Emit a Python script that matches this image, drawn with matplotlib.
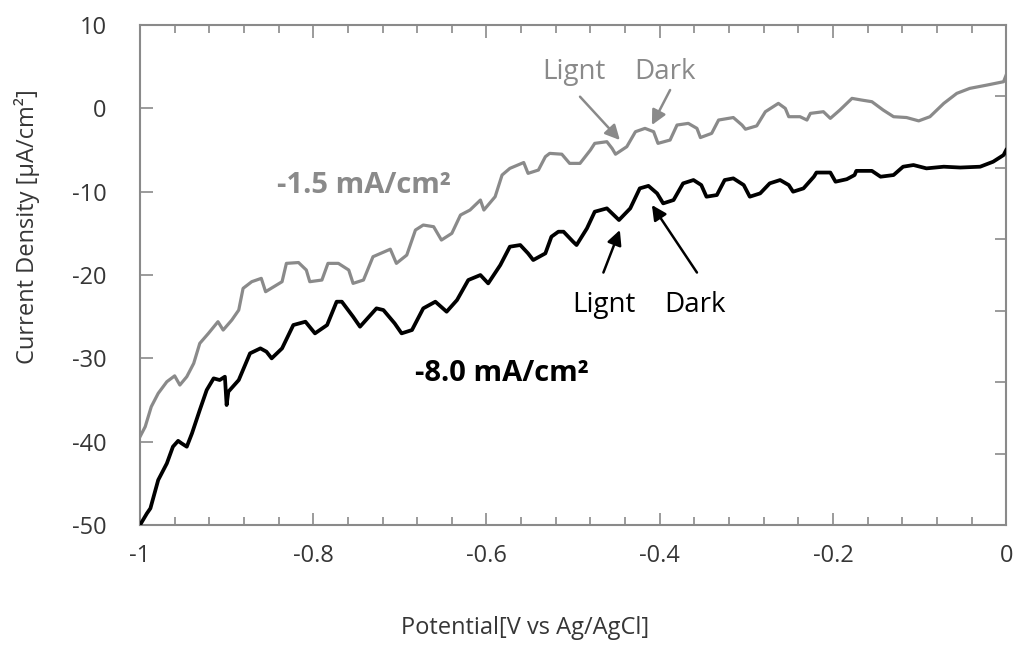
import matplotlib
matplotlib.use('Agg')
import matplotlib.pyplot as plt
import numpy as np

plt.rcParams['font.family'] = ['Open Sans', 'Noto Sans', 'DejaVu Sans']
plt.rcParams['axes.unicode_minus'] = False

# -1.5 mA/cm2 sample (gray), chopped light LSV
gray_x = [-1.000, -0.994, -0.987, -0.979, -0.969, -0.960, -0.954, -0.946, -0.938, -0.931,
          -0.921, -0.910, -0.904, -0.894, -0.886, -0.881, -0.871, -0.860, -0.855, -0.836,
          -0.831, -0.817, -0.808, -0.804, -0.790, -0.783, -0.771, -0.759, -0.754, -0.742,
          -0.731, -0.711, -0.704, -0.692, -0.682, -0.673, -0.661, -0.652, -0.640, -0.630,
          -0.619, -0.607, -0.603, -0.590, -0.582, -0.573, -0.557, -0.552, -0.540, -0.532,
          -0.527, -0.513, -0.504, -0.492, -0.480, -0.475, -0.461, -0.455, -0.451, -0.438,
          -0.428, -0.417, -0.407, -0.402, -0.388, -0.380, -0.367, -0.357, -0.353, -0.340,
          -0.332, -0.315, -0.305, -0.301, -0.288, -0.278, -0.263, -0.255, -0.251, -0.238,
          -0.230, -0.226, -0.211, -0.203, -0.192, -0.178, -0.167, -0.155, -0.142, -0.130,
          -0.115, -0.101, -0.088, -0.072, -0.057, -0.042, -0.022, -0.003, 0.000]
gray_y = [-39.4, -38.2, -35.8, -34.2, -32.8, -32.1, -33.2, -32.2, -30.6, -28.2,
          -27.0, -25.6, -26.6, -25.4, -24.2, -21.6, -20.8, -20.4, -22.0, -20.8,
          -18.6, -18.5, -19.4, -20.8, -20.6, -18.6, -18.6, -19.4, -21.0, -20.6,
          -17.8, -16.9, -18.6, -17.6, -14.6, -14.0, -14.2, -15.8, -15.0, -12.8,
          -12.2, -11.0, -12.2, -10.6, -8.0, -7.2, -6.5, -7.8, -7.4, -5.8,
          -5.4, -5.5, -6.6, -6.6, -5.0, -4.2, -4.0, -4.8, -5.5, -4.6,
          -2.8, -2.4, -2.8, -4.2, -3.8, -2.0, -1.8, -2.4, -3.5, -3.0,
          -1.4, -1.1, -2.0, -2.5, -2.1, -0.4, 0.6, 0.0, -1.0, -1.0,
          -1.4, -0.6, -0.4, -1.2, -0.2, 1.2, 1.0, 0.8, -0.2, -1.0,
          -1.1, -1.5, -1.0, 0.6, 1.8, 2.4, 2.8, 3.2, 4.0]

# -8.0 mA/cm2 sample (black)
black_x = [-1.000, -0.992, -0.988, -0.979, -0.969, -0.962, -0.956, -0.952, -0.946, -0.940,
           -0.931, -0.923, -0.915, -0.908, -0.902, -0.900, -0.898, -0.886, -0.873, -0.861,
           -0.854, -0.848, -0.836, -0.823, -0.809, -0.798, -0.784, -0.773, -0.767, -0.754,
           -0.746, -0.727, -0.719, -0.706, -0.698, -0.686, -0.673, -0.659, -0.646, -0.634,
           -0.621, -0.607, -0.598, -0.584, -0.573, -0.561, -0.552, -0.546, -0.532, -0.525,
           -0.517, -0.511, -0.500, -0.496, -0.484, -0.475, -0.461, -0.451, -0.447, -0.434,
           -0.423, -0.413, -0.403, -0.396, -0.384, -0.373, -0.361, -0.352, -0.346, -0.334,
           -0.325, -0.315, -0.303, -0.296, -0.284, -0.273, -0.261, -0.251, -0.246, -0.234,
           -0.222, -0.219, -0.203, -0.197, -0.184, -0.175, -0.173, -0.155, -0.145, -0.130,
           -0.119, -0.107, -0.092, -0.072, -0.053, -0.030, -0.015, -0.003, 0.000]
black_y = [-50.0, -48.6, -48.0, -44.6, -42.6, -40.6, -39.9, -40.2, -40.6, -39.0,
           -36.2, -33.8, -32.4, -32.6, -32.2, -35.6, -34.0, -32.6, -29.4, -28.8,
           -29.2, -30.0, -28.8, -26.0, -25.6, -27.0, -26.0, -23.2, -23.2, -25.0,
           -26.2, -24.0, -24.2, -25.8, -27.0, -26.6, -24.0, -23.2, -24.4, -23.0,
           -20.6, -20.0, -21.0, -18.8, -16.6, -16.4, -17.4, -18.2, -17.4, -15.4,
           -14.8, -14.8, -16.0, -16.4, -14.4, -12.4, -12.0, -13.0, -13.4, -12.0,
           -9.6, -9.3, -10.2, -11.4, -11.0, -9.0, -8.6, -9.2, -10.6, -10.4,
           -8.6, -8.4, -9.2, -10.6, -10.2, -9.0, -8.6, -9.2, -10.0, -9.6,
           -8.2, -7.7, -7.7, -8.8, -8.5, -8.0, -7.5, -7.5, -8.2, -8.0,
           -7.0, -6.8, -7.2, -7.0, -7.1, -7.0, -6.4, -5.6, -5.0]

xticks = [-1, -0.8, -0.6, -0.4, -0.2, 0]
xticklabels = ['-1', '-0.8', '-0.6', '-0.4', '-0.2', '0']
yticks = [-50, -40, -30, -20, -10, 0, 10]

GRAY = '#8a8a8a'
TXT = '#363636'

fig = plt.figure(figsize=(10.19, 6.59), dpi=100)
ax = fig.add_axes([0.1374, 0.2033, 0.85, 0.7587])

ax.plot(gray_x, gray_y, color=GRAY, lw=2.3, zorder=3, solid_joinstyle='round')
ax.plot(black_x, black_y, color='black', lw=2.7, zorder=3, solid_joinstyle='round')

ax.set_xlim(-1, 0)
ax.set_ylim(-50, 10)
ax.set_xticks(xticks)
ax.set_xticklabels(xticklabels)
ax.set_xticks(np.arange(-1, 0.001, 0.04), minor=True)
ax.set_yticks(yticks)

for s in ax.spines.values():
    s.set_color(GRAY)
    s.set_linewidth(1.5)

ax.tick_params(axis='x', which='both', direction='in', top=True, bottom=True,
               color=GRAY, width=1.2, labelsize=17, labelcolor=TXT, pad=14)
ax.tick_params(axis='x', which='major', length=9)
ax.tick_params(axis='x', which='minor', length=6)
ax.tick_params(axis='y', which='major', direction='in', left=True, right=False,
               length=9, color=GRAY, width=1.2, labelsize=17, labelcolor=TXT, pad=24)

# right side ticks (secondary scale, unlabeled)
ax2 = ax.twinx()
ax2.set_ylim(0, 7)
ax2.set_yticks(range(1, 7))
ax2.tick_params(axis='y', direction='in', length=8, color=GRAY, width=1.2, labelright=False)
for s in ax2.spines.values():
    s.set_visible(False)

fig.text(525 / 1019, 1 - 628 / 659, 'Potential[V vs Ag/AgCl]', ha='center', va='center',
         fontsize=17, color=TXT)
fig.text(27 / 1019, 1 - 227 / 659, 'Current Density [μA/cm²]', ha='center', va='center',
         rotation=90, fontsize=17, color=TXT)

ax.text(-0.742, -9.2, '-1.5 mA/cm²', color=GRAY, fontsize=21, fontweight='bold',
        ha='center', va='center')
ax.text(-0.582, -31.8, '-8.0 mA/cm²', color='black', fontsize=21, fontweight='bold',
        ha='center', va='center')

ax.text(-0.499, 4.4, 'Lignt', color=GRAY, fontsize=20, ha='center', va='center')
ax.text(-0.394, 4.4, 'Dark', color=GRAY, fontsize=20, ha='center', va='center')
ax.text(-0.464, -23.6, 'Lignt', color='black', fontsize=20, ha='center', va='center')
ax.text(-0.359, -23.6, 'Dark', color='black', fontsize=20, ha='center', va='center')

arrows = [((-0.446, -3.8), (-0.492, 1.4), GRAY),
          ((-0.409, -2.0), (-0.388, 2.2), GRAY),
          ((-0.446, -14.6), (-0.465, -19.7), 'black'),
          ((-0.409, -11.6), (-0.357, -19.7), 'black')]
for head, tail, c in arrows:
    ax.annotate('', xy=head, xytext=tail,
                arrowprops=dict(arrowstyle='-|>', color=c, lw=1.8, mutation_scale=22,
                                shrinkA=0, shrinkB=0))

fig.savefig('out.png', dpi=100)
